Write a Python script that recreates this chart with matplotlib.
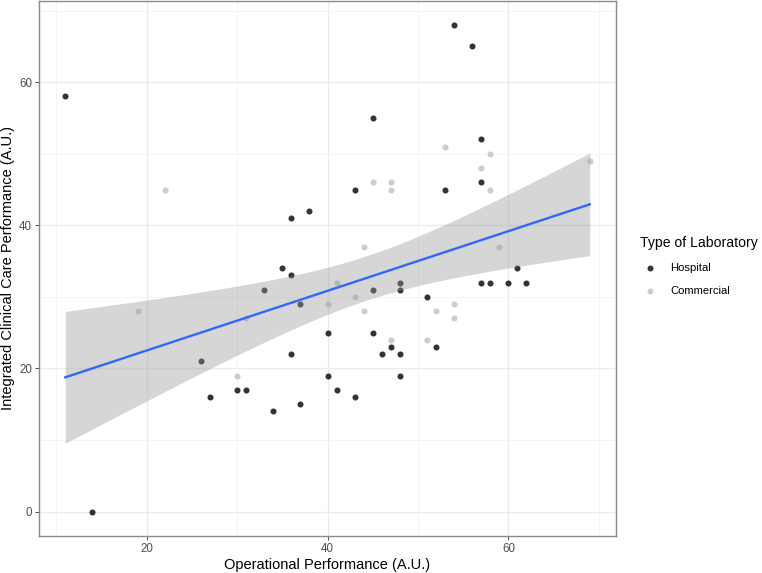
import numpy as np
import matplotlib
matplotlib.use("Agg")
import matplotlib.pyplot as plt
from matplotlib.lines import Line2D

plt.rcParams['font.family'] = ['Liberation Sans', 'DejaVu Sans']

# ---- data ----
categories = ["Hospital", "Commercial"]
hosp_x = [11, 36, 38, 35, 36, 33, 54, 56, 45, 57, 57, 43, 53, 61, 57, 58, 60, 62, 48, 45,
          48, 51, 40, 45, 47, 52, 46, 48, 40, 48, 41, 43, 37, 26, 36, 27, 30, 31, 34, 37, 14]
hosp_y = [58, 41, 42, 34, 33, 31, 68, 65, 55, 52, 46, 45, 45, 34, 32, 32, 32, 32, 32, 31,
          31, 30, 25, 25, 23, 23, 22, 22, 19, 19, 17, 16, 29, 21, 22, 16, 17, 17, 14, 15, 0]
comm_x = [22, 53, 58, 57, 58, 45, 47, 47, 69, 44, 59, 41, 40, 43, 44, 52, 54, 54, 47, 51, 19, 31, 30]
comm_y = [45, 51, 50, 48, 45, 46, 46, 45, 49, 37, 37, 32, 29, 30, 28, 28, 29, 27, 24, 24, 28, 27, 19]
x_ticks = [20, 40, 60]
y_ticks = [0, 20, 40, 60]

colors = {"Hospital": "#333333", "Commercial": "#CCCCCC"}

W, H = 762, 573
fig = plt.figure(figsize=(W / 100, H / 100), dpi=100)
L, R, T, B = 39, 616, 0.5, 536
ax = fig.add_axes([L / W, 1 - B / H, (R - L) / W, (B - T) / H])

allx = np.array(hosp_x + comm_x, float)
ally = np.array(hosp_y + comm_y, float)

# points
ax.scatter(hosp_x, hosp_y, s=19, color=colors["Hospital"], linewidths=0, zorder=3)
ax.scatter(comm_x, comm_y, s=19, color=colors["Commercial"], linewidths=0, zorder=3)

# linear fit with 95% CI
n = len(allx)
b1, b0 = np.polyfit(allx, ally, 1)
resid = ally - (b0 + b1 * allx)
s2 = np.sum(resid ** 2) / (n - 2)
xm = allx.mean()
sxx = np.sum((allx - xm) ** 2)
xs = np.linspace(allx.min(), allx.max(), 80)
yhat = b0 + b1 * xs
se = np.sqrt(s2 * (1 / n + (xs - xm) ** 2 / sxx))
tq = 1.999
ax.fill_between(xs, yhat - tq * se, yhat + tq * se, color="#999999", alpha=0.4,
                linewidth=0, zorder=4)
ax.plot(xs, yhat, color="#3366FF", linewidth=1.7, zorder=5)

# limits (ggplot 5% expansion)
xr = allx.max() - allx.min()
yr = ally.max() - ally.min()
ax.set_xlim(allx.min() - 0.05 * xr, allx.max() + 0.05 * xr)
ax.set_ylim(ally.min() - 0.05 * yr, ally.max() + 0.05 * yr)

ax.set_xticks(x_ticks)
ax.set_yticks(y_ticks)
ax.set_xticks([10, 30, 50, 70], minor=True)
ax.set_yticks([10, 30, 50, 70], minor=True)
ax.grid(which="major", color="#EBEBEB", linewidth=1.0, zorder=0)
ax.grid(which="minor", color="#F2F2F2", linewidth=0.6, zorder=0)
ax.set_axisbelow(True)
ax.tick_params(which="major", length=3, width=0.6, color="#333333",
               labelsize=8.3, labelcolor="#4D4D4D", pad=2)
ax.tick_params(which="minor", length=0)
for sp in ax.spines.values():
    sp.set_color("#8A8A8A")
    sp.set_linewidth(1.0)

ax.set_xlabel("Operational Performance (A.U.)", fontsize=10.5, color="black", labelpad=2)
ax.set_ylabel("Integrated Clinical Care Performance (A.U.)", fontsize=10.5, color="black", labelpad=3)

# legend (manual, ggplot style)
fig.text(640 / W, 1 - 242.5 / H, "Type of Laboratory", fontsize=10.1, va="center", ha="left")
for i, cat in enumerate(categories):
    yy = 1 - (267.7 + i * 23.3) / H
    fig.add_artist(Line2D([650 / W], [yy], marker="o", markersize=4.3, linestyle="none",
                          markerfacecolor=colors[cat], markeredgewidth=0,
                          transform=fig.transFigure))
    fig.text(670 / W, yy, cat, fontsize=8.1, va="center", ha="left")

fig.savefig("out.png", dpi=100, facecolor="white")
